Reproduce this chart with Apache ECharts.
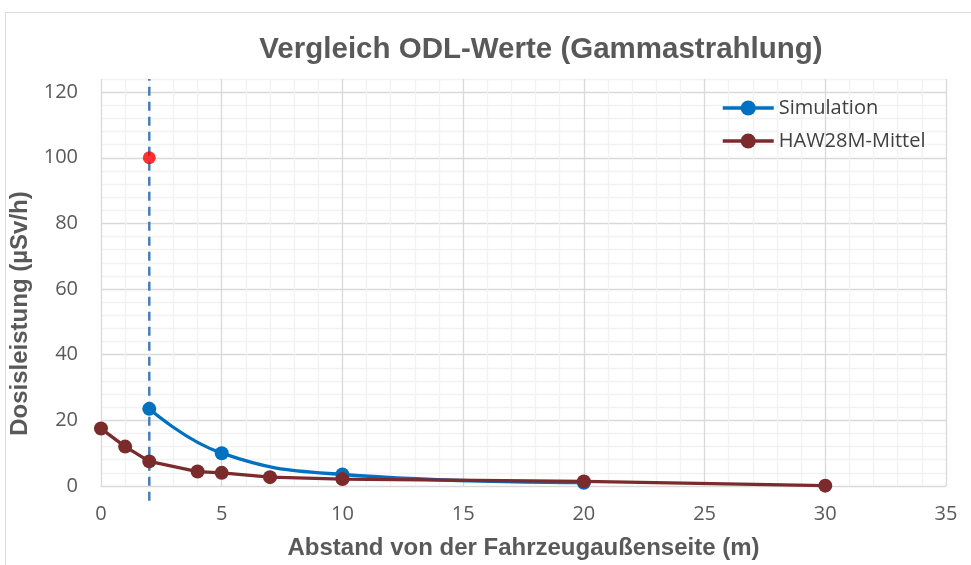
<!DOCTYPE html>
<html>
<head>
<meta charset="utf-8">
<script src="https://cdn.jsdelivr.net/npm/echarts@6/dist/echarts.min.js"></script>
<style>
html,body{margin:0;padding:0;background:#fff;}
#c{width:971px;height:565px;position:absolute;left:0;top:0;}
#b{position:absolute;left:5px;top:12px;width:970px;height:560px;border:1px solid #d9d9d9;box-sizing:border-box;pointer-events:none;}
</style>
</head>
<body>
<div id="c"></div>
<div id="b"></div>
<script>
const titleText = 'Vergleich ODL-Werte (Gammastrahlung)';
const xAxisName = 'Abstand von der Fahrzeugaußenseite (m)';
const yAxisName = 'Dosisleistung (µSv/h)';
const simX = [2, 5, 10, 20];
const simY = [23.5, 10, 3.5, 1];
const hawX = [0, 1, 2, 4, 5, 7, 10, 20, 30];
const hawY = [17.5, 12, 7.5, 4.4, 4, 2.7, 2.1, 1.4, 0.1];
const redPoint = [2, 100];
const limitLineX = 2;
const limitLineY = [-4.5, 124];

const chart = echarts.init(document.getElementById('c'));
const font = '"Open Sans", sans-serif';
const boldFont = '"Liberation Sans", Arial, sans-serif';
const zip = (xs, ys) => xs.map((x, i) => [x, ys[i]]);
chart.setOption({
  animation: false,
  title: {
    text: titleText,
    left: 536, top: 30, textAlign: 'center',
    textStyle: {fontFamily: boldFont, fontSize: 29.5, fontWeight: 'bold', color: '#595959'}
  },
  legend: {
    orient: 'vertical', left: 716, top: 93, itemGap: 13,
    itemWidth: 51, itemHeight: 19,
    lineStyle: {width: 3.5},
    textStyle: {fontFamily: font, fontSize: 20, color: '#404040', padding: [0,0,0,0]},
    data: ['Simulation', 'HAW28M-Mittel']
  },
  grid: {left: 101, right: 25, top: 79, bottom: 78, containLabel: false},
  xAxis: {
    type: 'value', min: 0, max: 35, interval: 1,
    name: xAxisName, nameLocation: 'middle', nameGap: 50,
    nameTextStyle: {fontFamily: boldFont, fontSize: 24, fontWeight: 'bold', color: '#595959'},
    axisLine: {show: true, lineStyle: {color: '#d9d9d9', width: 1}},
    axisTick: {show: false},
    axisLabel: {fontFamily: font, fontSize: 20, color: '#595959', margin: 18, interval: 0,
      formatter: v => (v % 5 === 0 ? String(v) : '')},
    splitLine: {show: true, lineStyle: {color: ['#d9d9d9', '#f2f2f2', '#f2f2f2', '#f2f2f2', '#f2f2f2'], width: 1.3}}
  },
  yAxis: {
    type: 'value', min: 0, max: 124, interval: 4,
    name: yAxisName, nameLocation: 'middle', nameGap: 58, nameRotate: 90,
    nameTextStyle: {fontFamily: boldFont, fontSize: 24, fontWeight: 'bold', color: '#595959', padding: [0, 62, 0, 0]},
    axisLine: {show: false},
    axisTick: {show: false},
    axisLabel: {fontFamily: font, fontSize: 20, color: '#595959', margin: 23, interval: 0,
      formatter: v => (v % 20 === 0 ? String(v) : '')},
    splitLine: {show: true, lineStyle: {color: ['#d9d9d9', '#f2f2f2', '#f2f2f2', '#f2f2f2', '#f2f2f2'], width: 1.3}}
  },
  series: [
    {
      name: 'Grenzlinie', type: 'line', data: zip([limitLineX, limitLineX], limitLineY),
      symbol: 'none', clip: false, silent: true, z: 1,
      lineStyle: {color: '#4a7ebb', width: 2.5, type: [9, 6]}
    },
    {
      name: 'Simulation', type: 'line', data: zip(simX, simY), smooth: 0.45,
      symbol: 'circle', symbolSize: 14, z: 3,
      itemStyle: {color: '#0070c0'},
      lineStyle: {color: '#0070c0', width: 3.3}
    },
    {
      name: 'HAW28M-Mittel', type: 'line', data: zip(hawX, hawY),
      symbol: 'circle', symbolSize: 14, z: 4, clip: false,
      itemStyle: {color: '#7b2b2b'},
      lineStyle: {color: '#7b2b2b', width: 3.3}
    },
    {
      name: 'Grenzwert', type: 'scatter', data: [redPoint],
      symbol: 'circle', symbolSize: 13, z: 5,
      itemStyle: {color: '#ff0000'}
    }
  ]
});
</script>
</body>
</html>
